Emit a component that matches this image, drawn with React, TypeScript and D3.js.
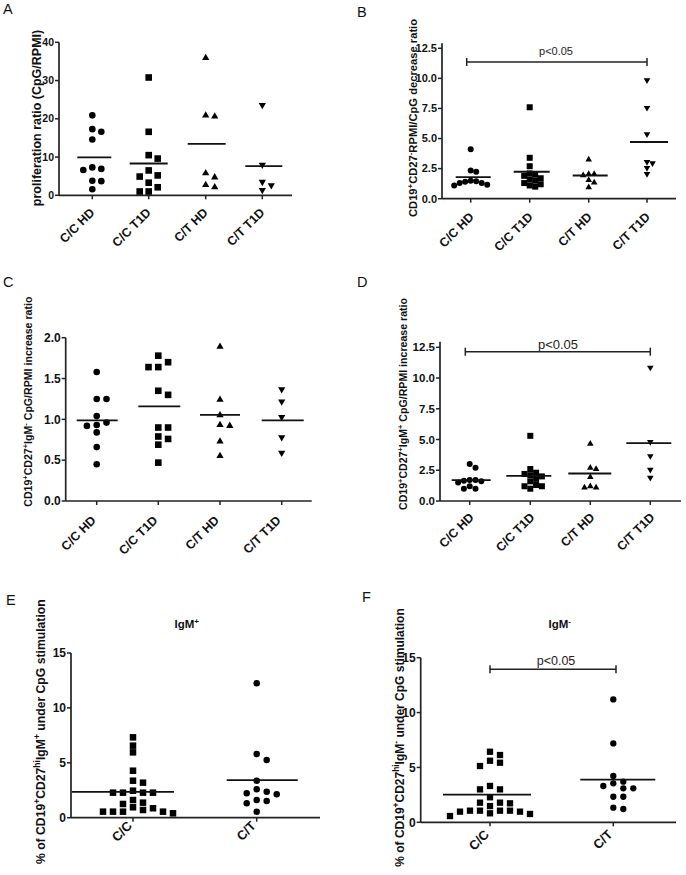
import React from 'react';
import * as d3 from 'd3';

// ---------- categories ----------
const catsFour = ['C/C HD', 'C/C T1D', 'C/T HD', 'C/T T1D'];
const catsTwo = ['C/C', 'C/T'];

// ---------- Panel A: proliferation ratio ----------
const aCCHD = [20.9, 17.3, 16.6, 14.6, 6.9, 6.6, 7.3, 3.8, 3.7, 1.6];
const aCCT1D = [30.8, 16.6, 9.6, 10.5, 5.2, 4.9, 6.5, 3.3, 2.1, 1.0, 1.0];
const aCTHD = [36.1, 20.8, 21.1, 6.0, 4.9, 2.3, 2.9];
const aCTT1D = [23.4, 7.8, 3.3, 1.2, 2.4];
const aTicks = [0, 10, 20, 30, 40];

// ---------- Panel B: CD19+CD27- decrease ratio ----------
const bCCHD = [4.1, 2.35, 2.25, 1.5, 1.45, 1.3, 1.15, 1.1, 1.3, 1.4];
const bCCT1D = [7.6, 3.4, 2.7, 2.1, 2.0, 1.9, 1.7, 1.6, 1.5, 1.3, 1.2, 1.1, 1.0];
const bCTHD = [3.3, 2.1, 2.0, 2.1, 1.6, 1.4, 1.0];
const bCTT1D = [9.8, 7.5, 5.3, 3.0, 2.9, 2.5, 2.0];
const bTicks = [0, 2.5, 5, 7.5, 10, 12.5];

// ---------- Panel C: CD19+CD27+IgM- increase ratio ----------
const cCCHD = [1.58, 1.25, 1.25, 1.04, 0.93, 0.96, 0.92, 0.84, 0.66, 0.45];
const cCCT1D = [1.78, 1.70, 1.64, 1.64, 1.35, 1.30, 0.90, 0.90, 0.79, 0.76, 0.69, 0.47];
const cCTHD = [1.90, 1.25, 1.06, 0.93, 0.94, 0.74, 0.56];
const cCTT1D = [1.36, 1.21, 1.02, 0.77, 0.58];
const cTicks = [0, 0.5, 1.0, 1.5, 2.0];

// ---------- Panel D: CD19+CD27+IgM+ increase ratio ----------
const dCCHD = [3.0, 2.7, 1.7, 1.6, 1.7, 1.65, 1.5, 1.2, 1.0, 1.0];
const dCCT1D = [5.3, 2.6, 2.3, 2.2, 2.1, 2.0, 1.8, 1.6, 1.3, 1.2, 1.2, 1.0];
const dCTHD = [4.7, 2.65, 2.75, 2.0, 1.25, 1.15, 1.15];
const dCTT1D = [10.8, 4.75, 3.6, 2.5, 1.85];
const dTicks = [0, 2.5, 5, 7.5, 10, 12.5];

// ---------- Panel E: % IgM+ ----------
const eCC = [7.32, 6.56, 5.95, 4.28, 3.37, 3.19, 2.28, 2.28, 2.46, 2.28, 2.28, 1.61, 1.37, 1.25, 0.95, 0.55, 0.55, 0.4, 0.86, 0.55, 0.55, 0.7];
const eCT = [12.24, 5.8, 5.26, 3.37, 2.22, 2.59, 2.37, 1.61, 1.52, 2.13, 1.31, 0.55];
const efTicks = [0, 5, 10, 15];

// ---------- Panel F: % IgM- ----------
const fCC = [6.43, 6.13, 5.61, 5.43, 5.13, 3.31, 3.0, 3.0, 2.28, 1.79, 1.73, 1.79, 1.48, 1.06, 1.06, 0.97, 0.76, 0.82, 0.97, 1.06, 1.06, 0.57];
const fCT = [11.2, 7.19, 4.22, 3.7, 3.31, 3.55, 3.1, 3.1, 2.33, 2.33, 1.21, 1.33];

const pText = 'p<0.05';

type Seg = { t: string; sup?: boolean };
type Shape = 'circle' | 'square' | 'up' | 'down';

interface Panel {
  letter: string; lx: number; ly: number;
  left: number; right: number; yTop: number; yBottom: number; axisExtra: number;
  domainMax: number; ticks: number[]; fmt: (v: number) => string;
  cats: string[]; catX: number[]; groups: number[][]; shapes: Shape[];
  meanExt: [number, number][]; size: number; step: number; collH: number;
  title: Seg[]; titleX: number; titleY: number; titleSize: number;
  tickSize: number; catSize: number; catDx: number; catDy: number;
  bracket?: { y: number; x1: number; x2: number; ty: number; tx: number; size: number };
  header?: { segs: Seg[]; x: number; y: number; size: number };
}

const f0 = d3.format('d');
const f1 = d3.format('.1f');

const panels: Panel[] = [
  {
    letter: 'A', lx: 3, ly: 14, left: 59, right: 292, yTop: 42.3, yBottom: 195.3, axisExtra: 0,
    domainMax: 40, ticks: aTicks, fmt: f0, cats: catsFour, catX: [92.3, 148.7, 205.7, 262.3],
    groups: [aCCHD, aCCT1D, aCTHD, aCTT1D], shapes: ['circle', 'square', 'up', 'down'],
    meanExt: [[15, 19], [19, 19], [18, 20], [17, 20]], size: 6.6, step: 9, collH: 6.6,
    title: [{ t: 'proliferation ratio (CpG/RPMI)' }], titleX: 41, titleY: 118, titleSize: 12.5,
    tickSize: 10.5, catSize: 12.5, catDx: 3, catDy: 18,
  },
  {
    letter: 'B', lx: 357, ly: 16.5, left: 442, right: 676, yTop: 48.3, yBottom: 198.7, axisExtra: 5,
    domainMax: 12.5, ticks: bTicks, fmt: f1, cats: catsFour, catX: [470.7, 529.7, 588.7, 647],
    groups: [bCCHD, bCCT1D, bCTHD, bCTT1D], shapes: ['circle', 'square', 'up', 'down'],
    meanExt: [[15, 20], [16, 20], [16, 19], [17, 21]], size: 6, step: 5.5, collH: 6,
    title: [{ t: 'CD19' }, { t: '+', sup: true }, { t: 'CD27' }, { t: '-', sup: true }, { t: 'RPMI/CpG decrease ratio' }],
    titleX: 416.5, titleY: 118, titleSize: 11.2,
    tickSize: 11, catSize: 12.5, catDx: 4, catDy: 19,
    bracket: { y: 62, x1: 466.7, x2: 647, ty: 55, tx: 556, size: 11 },
  },
  {
    letter: 'C', lx: 3, ly: 286.7, left: 65.7, right: 311.7, yTop: 337.7, yBottom: 501, axisExtra: 0,
    domainMax: 2.0, ticks: cTicks, fmt: f1, cats: catsFour, catX: [96.7, 158.3, 220, 281.7],
    groups: [cCCHD, cCCT1D, cCTHD, cCTT1D], shapes: ['circle', 'square', 'up', 'down'],
    meanExt: [[20, 21], [20, 22], [20, 20], [20, 22]], size: 6.6, step: 9.8, collH: 6.6,
    title: [{ t: 'CD19' }, { t: '+', sup: true }, { t: 'CD27' }, { t: '+', sup: true }, { t: 'IgM' }, { t: '-', sup: true }, { t: ' CpG/RPMI increase ratio' }],
    titleX: 32, titleY: 401.7, titleSize: 10.6,
    tickSize: 12, catSize: 12.5, catDx: 0, catDy: 20,
  },
  {
    letter: 'D', lx: 357, ly: 286.7, left: 440, right: 681, yTop: 347.3, yBottom: 501, axisExtra: 5.5,
    domainMax: 12.5, ticks: dTicks, fmt: f1, cats: catsFour, catX: [469.7, 530.3, 590.3, 650.3],
    groups: [dCCHD, dCCT1D, dCTHD, dCTT1D], shapes: ['circle', 'square', 'up', 'down'],
    meanExt: [[18, 21], [24, 21], [22, 21], [24, 21]], size: 6, step: 5.8, collH: 6,
    title: [{ t: 'CD19' }, { t: '+', sup: true }, { t: 'CD27' }, { t: '+', sup: true }, { t: 'IgM' }, { t: '+', sup: true }, { t: ' CpG/RPMI increase ratio' }],
    titleX: 407, titleY: 404, titleSize: 10.6,
    tickSize: 11.5, catSize: 12.5, catDx: 5, catDy: 17,
    bracket: { y: 351.7, x1: 465.3, x2: 650.3, ty: 349, tx: 558, size: 13 },
  },
  {
    letter: 'E', lx: 6, ly: 605, left: 71, right: 320, yTop: 653, yBottom: 817.7, axisExtra: 0,
    domainMax: 15, ticks: efTicks, fmt: f0, cats: catsTwo, catX: [133, 256.7],
    groups: [eCC, eCT], shapes: ['square', 'circle'],
    meanExt: [[61, 41], [30, 41]], size: 6.5, step: 10, collH: 6.5,
    title: [{ t: '% of CD19' }, { t: '+', sup: true }, { t: 'CD27' }, { t: 'hi', sup: true }, { t: 'IgM' }, { t: '+', sup: true }, { t: ' under CpG stimulation' }],
    titleX: 45, titleY: 731.7, titleSize: 12.2,
    tickSize: 12, catSize: 13, catDx: 0, catDy: 9,
    header: { segs: [{ t: 'IgM' }, { t: '+', sup: true }], x: 186.7, y: 628, size: 11.5 },
  },
  {
    letter: 'F', lx: 362, ly: 602, left: 420.7, right: 676, yTop: 657.7, yBottom: 822.3, axisExtra: 0,
    domainMax: 15, ticks: efTicks, fmt: f0, cats: catsTwo, catX: [490, 613.3],
    groups: [fCC, fCT], shapes: ['square', 'circle'],
    meanExt: [[47, 41], [33, 42]], size: 6.3, step: 10, collH: 6.3,
    title: [{ t: '% of CD19' }, { t: '+', sup: true }, { t: 'CD27' }, { t: 'hi', sup: true }, { t: 'IgM' }, { t: '-', sup: true }, { t: ' under CpG stimulation' }],
    titleX: 404, titleY: 737.5, titleSize: 12,
    tickSize: 12, catSize: 13, catDx: 0, catDy: 13,
    bracket: { y: 669.3, x1: 490, x2: 616, ty: 665, tx: 556, size: 12.5 },
    header: { segs: [{ t: 'IgM' }, { t: '-', sup: true }], x: 559.7, y: 628, size: 11.5 },
  },
];

const FONT = '"Liberation Sans", Arial, Helvetica, sans-serif';
const INK = '#111';
const AXIS = '#222';

function swarm(vals: number[], y: (v: number) => number, step: number, collH: number) {
  const order = vals.map((_, i) => i).sort((a, b) => vals[b] - vals[a]);
  const placed: { x: number; y: number }[] = [];
  const out: { x: number; y: number }[] = new Array(vals.length);
  for (const i of order) {
    const py = y(vals[i]);
    for (let k = 0; k < 60; k++) {
      const m = k === 0 ? 0 : k % 2 === 1 ? (k + 1) / 2 : -k / 2;
      const px = m * step;
      const hit = placed.some(p => Math.abs(p.x - px) < step * 0.95 && Math.abs(p.y - py) < collH);
      if (!hit) { placed.push({ x: px, y: py }); out[i] = { x: px, y: py }; break; }
    }
  }
  return out;
}

function Marker({ shape, x, y, s }: { shape: Shape; x: number; y: number; s: number }) {
  if (shape === 'circle') return <circle cx={x} cy={y} r={s / 2} fill="#000" />;
  if (shape === 'square') return <rect x={x - s / 2} y={y - s / 2} width={s} height={s} fill="#000" />;
  const w = s * 1.1, h = s * 0.95;
  const d = shape === 'up'
    ? `M${x},${y - h * 0.55}L${x + w / 2},${y + h * 0.45}L${x - w / 2},${y + h * 0.45}Z`
    : `M${x},${y + h * 0.55}L${x + w / 2},${y - h * 0.45}L${x - w / 2},${y - h * 0.45}Z`;
  return <path d={d} fill="#000" />;
}

function Segs({ segs }: { segs: Seg[] }) {
  return (
    <>
      {segs.map((s, i) =>
        s.sup ? (
          <tspan key={i} baselineShift="super" fontSize="70%">{s.t}</tspan>
        ) : (
          <tspan key={i}>{s.t}</tspan>
        )
      )}
    </>
  );
}

function PanelView({ p }: { p: Panel }) {
  const y = d3.scaleLinear().domain([0, p.domainMax]).range([p.yBottom, p.yTop]);
  const x = d3.scaleOrdinal<string, number>().domain(p.cats).range(p.catX);
  return (
    <g>
      <text x={p.lx} y={p.ly} fontSize={14.5} fontFamily={FONT} fill={INK}>{p.letter}</text>
      {/* y axis */}
      <line x1={p.left} x2={p.left} y1={p.yTop - p.axisExtra} y2={p.yBottom} stroke={AXIS} strokeWidth={1.7} />
      {p.ticks.map(t => (
        <g key={t}>
          <line x1={p.left - 4} x2={p.left} y1={y(t)} y2={y(t)} stroke={AXIS} strokeWidth={1.5} />
          <text x={p.left - 5} y={y(t)} dy="0.35em" textAnchor="end" fontSize={p.tickSize} fontWeight="bold" fontFamily={FONT} fill={INK}>{p.fmt(t)}</text>
        </g>
      ))}
      {/* x axis */}
      <line x1={p.left} x2={p.right} y1={p.yBottom} y2={p.yBottom} stroke={AXIS} strokeWidth={1.7} />
      {p.cats.map(c => (
        <g key={c}>
          <line x1={x(c)} x2={x(c)} y1={p.yBottom} y2={p.yBottom + 4} stroke={AXIS} strokeWidth={1.5} />
          <text transform={`translate(${x(c) + p.catDx},${p.yBottom + p.catDy}) rotate(-45)`} textAnchor="end" fontSize={p.catSize} fontWeight="bold" fontFamily={FONT} fill={INK}>{c}</text>
        </g>
      ))}
      {/* y title */}
      <text transform={`translate(${p.titleX},${p.titleY}) rotate(-90)`} textAnchor="middle" fontSize={p.titleSize} fontWeight="bold" fontFamily={FONT} fill={INK}>
        <Segs segs={p.title} />
      </text>
      {p.header && (
        <text x={p.header.x} y={p.header.y} textAnchor="middle" fontSize={p.header.size} fontWeight="bold" fontFamily={FONT} fill={INK}>
          <Segs segs={p.header.segs} />
        </text>
      )}
      {/* points + means */}
      {p.groups.map((vals, gi) => {
        const cx = x(p.cats[gi]);
        const pos = swarm(vals, y, p.step, p.collH);
        const m = d3.mean(vals) as number;
        return (
          <g key={gi}>
            {pos.map((q, i) => <Marker key={i} shape={p.shapes[gi]} x={cx + q.x} y={q.y} s={p.size} />)}
            <line x1={cx - p.meanExt[gi][0]} x2={cx + p.meanExt[gi][1]} y1={y(m)} y2={y(m)} stroke="#111" strokeWidth={1.8} />
          </g>
        );
      })}
      {p.bracket && (
        <g>
          <line x1={p.bracket.x1} x2={p.bracket.x2} y1={p.bracket.y} y2={p.bracket.y} stroke="#222" strokeWidth={1.5} />
          <line x1={p.bracket.x1} x2={p.bracket.x1} y1={p.bracket.y - 4} y2={p.bracket.y + 4} stroke="#222" strokeWidth={1.5} />
          <line x1={p.bracket.x2} x2={p.bracket.x2} y1={p.bracket.y - 4} y2={p.bracket.y + 4} stroke="#222" strokeWidth={1.5} />
          <text x={p.bracket.tx} y={p.bracket.ty} textAnchor="middle" fontSize={p.bracket.size} fontFamily={FONT} fill="#222">{pText}</text>
        </g>
      )}
    </g>
  );
}

export default function App() {
  return (
    <svg width={686} height={875} viewBox="0 0 686 875" style={{ position: 'absolute', left: 0, top: 0, background: '#fff' }}>
      <rect x={0} y={0} width={686} height={875} fill="#fff" />
      {panels.map(p => <PanelView key={p.letter} p={p} />)}
    </svg>
  );
}
